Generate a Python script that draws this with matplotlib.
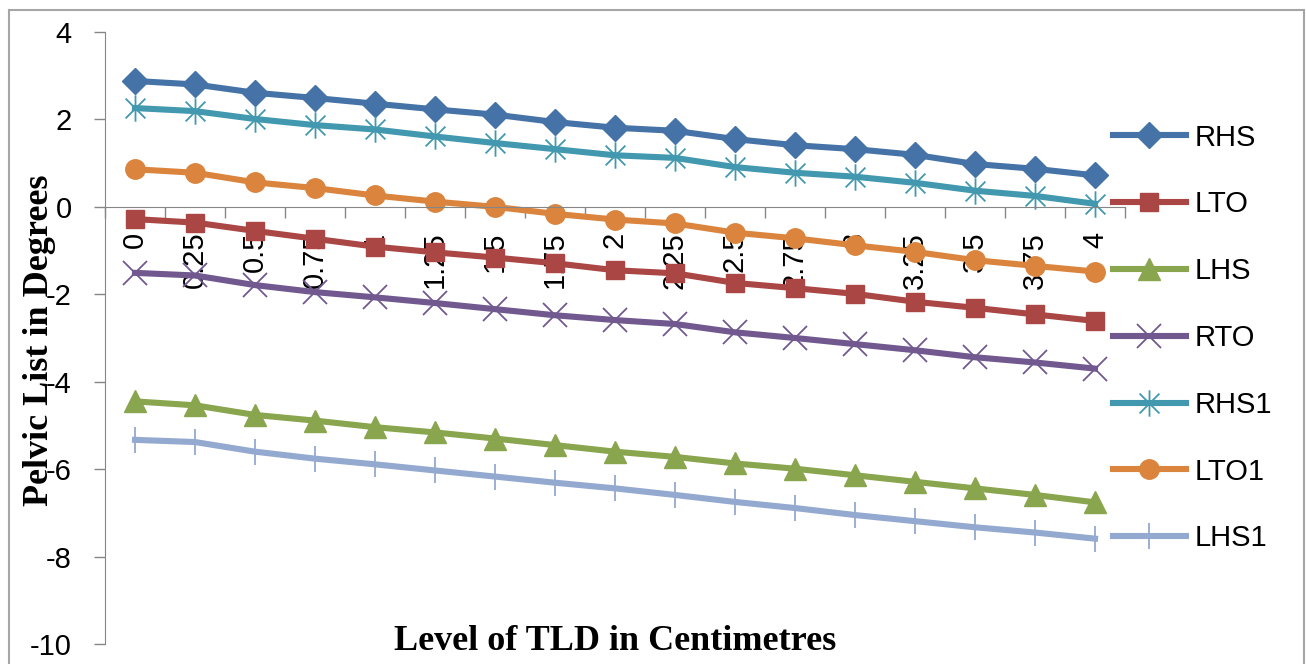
import numpy as np
import matplotlib

matplotlib.use("Agg")
import matplotlib.pyplot as plt
from matplotlib.path import Path
from matplotlib.patches import Rectangle

plt.rcParams["font.family"] = ["Liberation Sans", "DejaVu Sans"]
plt.rcParams["axes.unicode_minus"] = False

levels = ["0", "0.25", "0.5", "0.75", "1", "1.25", "1.5", "1.75", "2",
          "2.25", "2.5", "2.75", "3", "3.25", "3.5", "3.75", "4"]

rhs = [2.88, 2.80, 2.61, 2.49, 2.36, 2.23, 2.11, 1.94, 1.81,
       1.74, 1.55, 1.41, 1.32, 1.19, 0.98, 0.87, 0.72]
lto = [-0.28, -0.36, -0.55, -0.73, -0.91, -1.04, -1.16, -1.29, -1.45,
       -1.52, -1.74, -1.86, -1.99, -2.17, -2.31, -2.46, -2.61]
lhs = [-4.45, -4.54, -4.76, -4.89, -5.04, -5.16, -5.30, -5.45, -5.60,
       -5.72, -5.87, -5.99, -6.14, -6.29, -6.44, -6.59, -6.76]
rto = [-1.51, -1.57, -1.79, -1.95, -2.07, -2.20, -2.34, -2.48, -2.59,
       -2.68, -2.87, -3.00, -3.14, -3.28, -3.44, -3.56, -3.70]
rhs1 = [2.26, 2.19, 2.01, 1.87, 1.77, 1.61, 1.46, 1.32, 1.18,
        1.12, 0.91, 0.78, 0.69, 0.55, 0.37, 0.25, 0.07]
lto1 = [0.86, 0.78, 0.56, 0.43, 0.26, 0.12, 0.00, -0.16, -0.29,
        -0.38, -0.59, -0.72, -0.88, -1.03, -1.22, -1.35, -1.48]
lhs1 = [-5.33, -5.38, -5.60, -5.76, -5.89, -6.03, -6.17, -6.31, -6.44,
        -6.59, -6.75, -6.89, -7.05, -7.19, -7.33, -7.45, -7.59]

# asterisk marker (vertical bar plus a cross)
star = Path([(0, -1), (0, 1), (-0.75, -0.75), (0.75, 0.75), (-0.75, 0.75), (0.75, -0.75)],
            [Path.MOVETO, Path.LINETO, Path.MOVETO, Path.LINETO, Path.MOVETO, Path.LINETO])

series = [
    ("RHS", rhs, "#4572A7", dict(marker="D", ms=13)),
    ("LTO", lto, "#AA4643", dict(marker="s", ms=13)),
    ("LHS", lhs, "#89A54E", dict(marker="^", ms=16)),
    ("RTO", rto, "#71588F", dict(marker="x", ms=17, mew=1.3)),
    ("RHS1", rhs1, "#4198AF", dict(marker=star, ms=19, mew=1.3)),
    ("LTO1", lto1, "#DB843D", dict(marker="o", ms=14)),
    ("LHS1", lhs1, "#93A9CF", dict(marker="|", ms=19, mew=1.3)),
]

fig = plt.figure(figsize=(13.06, 6.64), dpi=100)
ax = fig.add_axes([105 / 1306, 1 - 644 / 664, 1020 / 1306, 612 / 664])

x = np.arange(len(levels))
for name, vals, col, mk in series:
    ax.plot(x, vals, color=col, lw=4.4, label=name, mec=col, mfc=col, **mk)

ax.set_xlim(-0.5, len(levels) - 0.5)
ax.set_ylim(-10, 4)
ax.set_yticks(np.arange(-10, 5, 2))

ax.spines["top"].set_visible(False)
ax.spines["right"].set_visible(False)
ax.spines["left"].set_color("#868686")
ax.spines["bottom"].set_color("#868686")
ax.spines["bottom"].set_position(("data", 0))

ax.tick_params(axis="y", direction="out", length=8, width=1, color="#868686",
               labelsize=21, pad=16)
ax.set_xticks(x)
ax.set_xticklabels(levels, rotation=90, fontsize=21, va="top", ha="center")
ax.set_xticks(np.arange(-0.5, len(levels), 1), minor=True)
ax.tick_params(axis="x", which="major", length=0, pad=18)
ax.tick_params(axis="x", which="minor", direction="out", length=8, width=1, color="#868686")

serif = ["Liberation Serif", "DejaVu Serif"]
fig.text(40 / 1306, 1 - 340 / 664, "Pelvic List in Degrees", rotation=90,
         ha="center", va="center", fontsize=26, fontweight="bold", family=serif)
fig.text(615 / 1306, 1 - 641 / 664, "Level of TLD in Centimetres",
         ha="center", va="center", fontsize=26, fontweight="bold", family=serif)

fig.legend(loc="center left", bbox_to_anchor=(1113 / 1306, 1 - 338 / 664),
           frameon=False, fontsize=21, handlelength=2.5, handletextpad=0.3,
           labelspacing=1.33, borderpad=0, borderaxespad=0)

fig.patches.append(Rectangle((9 / 1306, -0.1), 1295 / 1306, 1.1 - 10 / 664,
                             transform=fig.transFigure, fill=False,
                             edgecolor="#A6A6A6", lw=1.5))

fig.savefig("out.png", dpi=100)
